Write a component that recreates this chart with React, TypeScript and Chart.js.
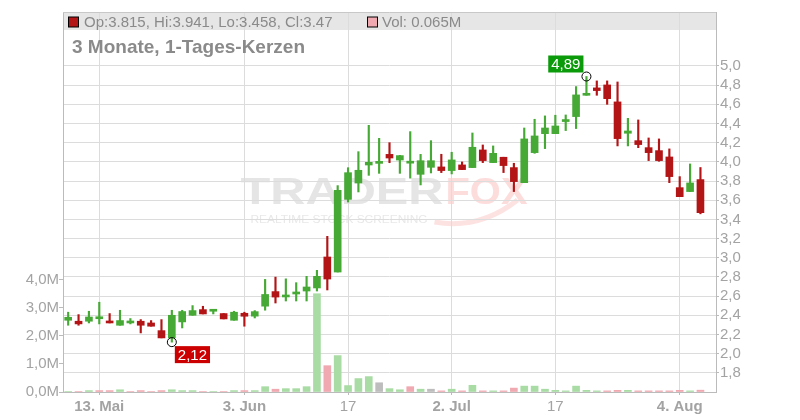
import React, { useEffect, useRef } from "react";
import { Chart, registerables } from "chart.js";

Chart.register(...registerables);

// ---------- data ----------
const dates = [
  "2025-05-08", "2025-05-09", "2025-05-12", "2025-05-13", "2025-05-14", "2025-05-15", "2025-05-16",
  "2025-05-19", "2025-05-20", "2025-05-21", "2025-05-22", "2025-05-23", "2025-05-27", "2025-05-28",
  "2025-05-29", "2025-05-30", "2025-06-02", "2025-06-03", "2025-06-04", "2025-06-05", "2025-06-06",
  "2025-06-09", "2025-06-10", "2025-06-11", "2025-06-12", "2025-06-13", "2025-06-16", "2025-06-17",
  "2025-06-18", "2025-06-20", "2025-06-23", "2025-06-24", "2025-06-25", "2025-06-26", "2025-06-27",
  "2025-06-30", "2025-07-01", "2025-07-02", "2025-07-03", "2025-07-07", "2025-07-08", "2025-07-09",
  "2025-07-10", "2025-07-11", "2025-07-14", "2025-07-15", "2025-07-16", "2025-07-17", "2025-07-18",
  "2025-07-21", "2025-07-22", "2025-07-23", "2025-07-24", "2025-07-25", "2025-07-28", "2025-07-29",
  "2025-07-30", "2025-07-31", "2025-08-01", "2025-08-04", "2025-08-05", "2025-08-06",
];

const open = [
  2.348, 2.338, 2.338, 2.364, 2.338, 2.296, 2.320, 2.338, 2.320, 2.240, 2.164, 2.331, 2.400, 2.459,
  2.442, 2.418, 2.348, 2.421, 2.391, 2.495, 2.647, 2.591, 2.622, 2.653, 2.685, 3.008, 2.851, 3.609,
  3.779, 3.967, 3.984, 4.078, 4.019, 3.986, 3.870, 3.943, 3.947, 3.909, 3.968, 3.940, 4.124, 3.992,
  4.048, 3.940, 3.783, 4.096, 4.294, 4.294, 4.420, 4.472, 4.694, 4.771, 4.802, 4.625, 4.298, 4.221,
  4.148, 4.117, 4.051, 3.731, 3.690, 3.815,
];

const high = [
  2.432, 2.407, 2.442, 2.536, 2.418, 2.452, 2.366, 2.355, 2.345, 2.355, 2.452, 2.452, 2.501, 2.494,
  2.459, 2.418, 2.442, 2.432, 2.449, 2.774, 2.798, 2.780, 2.740, 2.806, 2.869, 3.223, 3.752, 3.939,
  4.106, 4.381, 4.245, 4.200, 4.068, 4.315, 4.078, 4.221, 4.079, 4.100, 3.999, 4.301, 4.176, 4.166,
  4.048, 3.985, 4.353, 4.444, 4.479, 4.486, 4.489, 4.785, 4.890, 4.844, 4.844, 4.833, 4.454, 4.437,
  4.249, 4.239, 4.135, 3.846, 3.978, 3.941,
];

const low = [
  2.296, 2.296, 2.320, 2.310, 2.320, 2.296, 2.310, 2.216, 2.286, 2.164, 2.120, 2.268, 2.400, 2.414,
  2.414, 2.362, 2.348, 2.286, 2.372, 2.453, 2.528, 2.549, 2.549, 2.549, 2.653, 2.664, 2.851, 3.581,
  3.686, 3.859, 3.880, 3.991, 3.880, 3.830, 3.759, 3.884, 3.888, 3.874, 3.919, 3.940, 3.992, 3.992,
  3.888, 3.690, 3.783, 4.089, 4.138, 4.294, 4.326, 4.347, 4.694, 4.694, 4.600, 4.166, 4.166, 4.148,
  4.013, 4.006, 3.783, 3.637, 3.690, 3.458,
];

const close = [
  2.379, 2.310, 2.382, 2.376, 2.320, 2.345, 2.338, 2.296, 2.286, 2.164, 2.400, 2.439, 2.449, 2.414,
  2.449, 2.362, 2.432, 2.390, 2.438, 2.617, 2.590, 2.612, 2.643, 2.695, 2.806, 2.778, 3.703, 3.887,
  3.912, 3.995, 3.995, 4.040, 4.065, 3.995, 4.012, 4.012, 3.909, 4.020, 3.919, 4.152, 4.013, 4.089,
  3.961, 3.794, 4.239, 4.270, 4.353, 4.374, 4.437, 4.698, 4.708, 4.743, 4.659, 4.242, 4.322, 4.180,
  4.096, 4.013, 3.846, 3.637, 3.780, 3.470,
];

// volume in millions
const volumeM = [
  0.02, 0.02, 0.05, 0.05, 0.05, 0.08, 0.02, 0.05, 0.02, 0.05, 0.08, 0.05, 0.05, 0.02,
  0.02, 0.02, 0.05, 0.05, 0.05, 0.19, 0.10, 0.12, 0.12, 0.19, 3.51, 0.94, 1.30, 0.23,
  0.48, 0.55, 0.33, 0.12, 0.08, 0.19, 0.10, 0.10, 0.04, 0.10, 0.04, 0.24, 0.04, 0.04,
  0.04, 0.14, 0.21, 0.21, 0.10, 0.06, 0.04, 0.21, 0.06, 0.04, 0.04, 0.06, 0.06, 0.04,
  0.04, 0.04, 0.04, 0.06, 0.04, 0.065,
];

const xTickDates = ["2025-05-13", "2025-06-03", "2025-06-17", "2025-07-02", "2025-07-17", "2025-08-04"];
const xTickLabels = ["13. Mai", "3. Jun", "17", "2. Jul", "17", "4. Aug"];
const priceTicks = [1.8, 2.0, 2.2, 2.4, 2.6, 2.8, 3.0, 3.2, 3.4, 3.6, 3.8, 4.0, 4.2, 4.4, 4.6, 4.8, 5.0];
const volumeTicks = [0, 1, 2, 3, 4];
const chartTitle = "3 Monate, 1-Tages-Kerzen";

// ---------- styling ----------
const FONT = "'Liberation Sans', Arial, Helvetica, sans-serif";
const UP = "#46a935";
const DOWN = "#b31517";
const VOL_UP = "#a9dca5";
const VOL_DOWN = "#f0a9b0";
const VOL_FLAT = "#bdbdbd";
const GRID = "#dcdcdc";
const AXIS = "#bbbbbb";
const TICK_TEXT = "#a3a3a3";
const TEXT = "#8a8a8a";
const CLEAR = "rgba(0,0,0,0)";

// one spare (empty) slot on the right, as in the original
const slots = [...dates, ""];
const tickIndex = xTickDates.map((d) => dates.indexOf(d));
const labelAt = (i: number) => {
  const k = tickIndex.indexOf(i);
  return k >= 0 ? xTickLabels[k] : "";
};
const candleColors = close.map((c, i) => (c >= open[i] ? UP : DOWN));
const volumeColors = close.map((c, i) => {
  if (i === 0) return VOL_UP;
  if (c > close[i - 1]) return VOL_UP;
  if (c < close[i - 1]) return VOL_DOWN;
  return VOL_FLAT;
});
const fmt = (v: number, d: number) => v.toFixed(d).replace(".", ",");

const backdropPlugin = {
  id: "backdrop",
  beforeDraw(chart: any) {
    const { ctx, chartArea: a } = chart;
    ctx.save();
    ctx.fillStyle = "#e6e6e6";
    ctx.fillRect(a.left, a.top, a.right - a.left, 18);

    const cx = (a.left + a.right) / 2;
    const fit = (text: string, font: string, left: number, width: number, baseline: number, color: string) => {
      ctx.font = font;
      const w = ctx.measureText(text).width;
      ctx.save();
      ctx.translate(left, baseline);
      ctx.scale(width / w, 1);
      ctx.fillStyle = color;
      ctx.textAlign = "left";
      ctx.textBaseline = "alphabetic";
      ctx.fillText(text, 0, 0);
      ctx.restore();
    };
    fit("TRADER", `bold 37px ${FONT}`, cx - 149, 203, 203.5, "#e5e5e5");
    fit("FOX", `bold 37px ${FONT}`, cx + 56, 82, 203.5, "#fddcdc");
    fit("REALTIME STOCK SCREENING", `10px ${FONT}`, cx - 139, 177, 223, "#e8e8e8");
    ctx.strokeStyle = "#fde2e2";
    ctx.lineWidth = 5;
    ctx.beginPath();
    ctx.moveTo(cx + 45, 222);
    ctx.quadraticCurveTo(cx + 90, 230, cx + 128, 200);
    ctx.stroke();
    ctx.restore();
  },
};

const overlayPlugin = {
  id: "overlay",
  afterDatasetsDraw(chart: any) {
    const { ctx, chartArea: a } = chart;
    const xs = chart.scales.x;
    const ys = chart.scales.y;
    ctx.save();
    ctx.strokeStyle = "#c8c8c8";
    ctx.lineWidth = 1;
    ctx.beginPath();
    ctx.moveTo(a.left, a.top + 0.5);
    ctx.lineTo(a.right, a.top + 0.5);
    ctx.stroke();

    // legend
    const last = dates.length - 1;
    const midY = a.top + 9.5;
    ctx.textBaseline = "middle";
    ctx.textAlign = "left";
    ctx.font = `15px ${FONT}`;
    ctx.fillStyle = candleColors[last];
    ctx.fillRect(a.left + 5.5, midY - 4.5, 10, 10);
    ctx.strokeStyle = "#000";
    ctx.strokeRect(a.left + 5.5, midY - 4.5, 10, 10);
    ctx.fillStyle = TEXT;
    ctx.fillText(`Op:${open[last]}, Hi:${high[last]}, Lo:${low[last]}, Cl:${close[last]}`, a.left + 21, midY + 1);
    ctx.fillStyle = volumeColors[last];
    ctx.fillRect(a.left + 304.5, midY - 4.5, 10, 10);
    ctx.strokeRect(a.left + 304.5, midY - 4.5, 10, 10);
    ctx.fillStyle = TEXT;
    ctx.fillText(`Vol: ${volumeM[last]}M`, a.left + 319, midY + 1);

    // title
    ctx.font = `bold 19px ${FONT}`;
    ctx.fillStyle = TEXT;
    ctx.fillText(chartTitle, a.left + 9, a.top + 36);

    // high / low annotations
    let hi = 0;
    let lo = 0;
    high.forEach((v, i) => { if (v > high[hi]) hi = i; });
    low.forEach((v, i) => { if (v < low[lo]) lo = i; });
    const drawMark = (i: number, val: number, bg: string, above: boolean) => {
      const px = xs.getPixelForValue(i);
      const py = ys.getPixelForValue(val);
      ctx.strokeStyle = "#000";
      ctx.lineWidth = 1;
      ctx.beginPath();
      ctx.arc(px, py, 4.5, 0, Math.PI * 2);
      ctx.stroke();
      const label = fmt(val, 2);
      ctx.font = `15px ${FONT}`;
      const w = ctx.measureText(label).width + 6;
      const h = 17;
      const bx = above ? px - 3 - w : px + 3;
      const by = above ? py - 4 - h : py + 4;
      ctx.fillStyle = bg;
      ctx.fillRect(bx, by, w, h);
      ctx.fillStyle = "#fff";
      ctx.textAlign = "center";
      ctx.textBaseline = "middle";
      ctx.fillText(label, bx + w / 2, by + h / 2 + 1);
    };
    drawMark(hi, high[hi], "#0a9a0a", true);
    drawMark(lo, low[lo], "#cc0000", false);
    ctx.restore();
  },
};

export default function App() {
  const ref = useRef<HTMLCanvasElement | null>(null);

  useEffect(() => {
    if (!ref.current) return;
    const chart = new Chart(ref.current, {
      type: "bar",
      data: {
        labels: slots,
        datasets: [
          {
            label: "body",
            data: dates.map((_, i) => [open[i], close[i]]) as any,
            backgroundColor: candleColors,
            barThickness: 7,
            minBarLength: 2,
            grouped: false,
            yAxisID: "y",
            order: 1,
          },
          {
            label: "wick",
            data: dates.map((_, i) => [low[i], high[i]]) as any,
            backgroundColor: candleColors,
            barThickness: 1.5,
            grouped: false,
            yAxisID: "y",
            order: 2,
          },
          {
            label: "volume",
            data: volumeM,
            backgroundColor: volumeColors,
            barThickness: 7,
            grouped: false,
            yAxisID: "yv",
            order: 3,
          },
        ],
      },
      options: {
        responsive: false,
        animation: false,
        devicePixelRatio: 1,
        layout: { padding: { top: 12, left: 0, right: 0, bottom: 0 } },
        plugins: { legend: { display: false }, tooltip: { enabled: false } },
        scales: {
          x: {
            type: "category",
            position: "bottom",
            offset: true,
            afterFit: (s: any) => {
              s.height = 28;
            },
            ticks: {
              autoSkip: false,
              maxRotation: 0,
              minRotation: 0,
              padding: 3,
              color: TICK_TEXT,
              font: (c: any) => ({
                family: FONT,
                size: 15,
                weight: labelAt(c.index).includes(".") ? "bold" : "normal",
              }),
              callback: (_v: any, idx: number) => labelAt(idx),
            },
            grid: {
              offset: false,
              color: (c: any) => (tickIndex.includes(c.index) ? GRID : CLEAR),
              tickColor: (c: any) => (tickIndex.includes(c.index) ? AXIS : CLEAR),
              tickLength: 3,
            },
            border: { color: AXIS },
          },
          y: {
            type: "linear",
            position: "right",
            min: 1.6,
            max: 5.5625,
            afterBuildTicks: (s: any) => {
              s.ticks = priceTicks.map((v) => ({ value: v }));
            },
            afterFit: (s: any) => {
              s.width = 84;
            },
            ticks: {
              padding: 1,
              color: TICK_TEXT,
              font: { family: FONT, size: 15 },
              callback: (v: any) => fmt(Number(v), 1),
            },
            grid: { color: GRID, tickColor: AXIS, tickLength: 3 },
            border: { color: AXIS },
          },
          yv: {
            type: "linear",
            position: "left",
            min: 0,
            max: 13.5714,
            afterBuildTicks: (s: any) => {
              s.ticks = volumeTicks.map((v) => ({ value: v }));
            },
            afterFit: (s: any) => {
              s.width = 63;
            },
            ticks: {
              padding: 0,
              color: TICK_TEXT,
              font: { family: FONT, size: 15 },
              callback: (v: any) => fmt(Number(v), 1) + "M",
            },
            grid: { drawOnChartArea: false, tickColor: AXIS, tickLength: 4 },
            border: { color: AXIS },
          },
        },
      } as any,
      plugins: [backdropPlugin, overlayPlugin],
    });
    return () => chart.destroy();
  }, []);

  return (
    <div style={{ position: "fixed", left: 0, top: 0, width: 800, height: 420, background: "#fff" }}>
      <canvas ref={ref} width={800} height={420} style={{ display: "block" }} />
    </div>
  );
}
